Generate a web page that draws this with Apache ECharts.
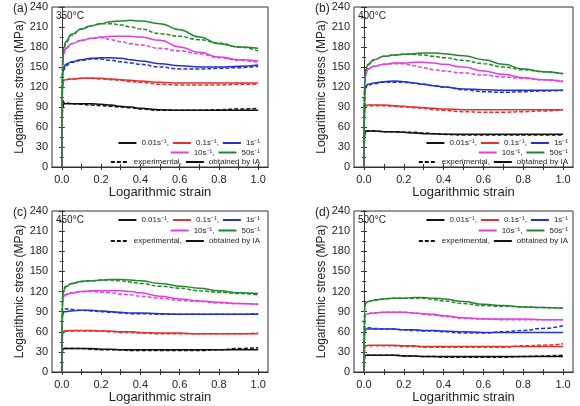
<!DOCTYPE html>
<html>
<head>
<meta charset="utf-8">
<script src="https://cdn.jsdelivr.net/npm/echarts@6/dist/echarts.min.js"></script>
<style>
  html, body { margin: 0; padding: 0; background: #fff; }
  #main { width: 580px; height: 406px; }
</style>
</head>
<body>
<div id="main"></div>
<script>
// strain points shared by every curve
const strain = [0, 0.004, 0.01, 0.02, 0.05, 0.1, 0.15, 0.2, 0.25, 0.3, 0.35, 0.4, 0.5, 0.6, 0.7, 0.8, 0.9, 1.0];
const rates = ['0.01s⁻¹', '0.1s⁻¹', '1s⁻¹', '10s⁻¹', '50s⁻¹'];
const temps = ['350°C', '400°C', '450°C', '500°C'];
const panelTags = ['(a)', '(b)', '(c)', '(d)'];
const xLabels = [0, 0.2, 0.4, 0.6, 0.8, 1.0];
const xTicks = [0, 0.1, 0.2, 0.3, 0.4, 0.5, 0.6, 0.7, 0.8, 0.9, 1.0];

// 350°C
const ia350_001 = [0, 88, 95, 95, 95, 95, 95, 94, 93, 91, 90, 88, 86, 85, 85, 85, 85, 85];
const ia350_01 = [0, 120, 130, 131, 132, 133, 133, 133, 132, 131, 130, 129, 127, 126, 126, 126, 126, 126];
const ia350_1 = [0, 140, 150, 154, 158, 161, 163, 164, 164, 163, 161, 159, 155, 152, 150, 150, 151, 153];
const ia350_10 = [0, 150, 172, 178, 185, 190, 193, 195, 196, 196, 196, 195, 190, 180, 172, 165, 161, 159];
const ia350_50 = [0, 155, 178, 188, 199, 207, 212, 215, 218, 219, 220, 219, 215, 206, 195, 185, 180, 178];
const exp350_001 = [0, 100, 97, 96, 95, 94, 93, 92, 91, 90, 89, 87, 85, 85, 85, 86, 87, 88];
const exp350_01 = [0, 125, 130, 131, 132, 133, 133, 132, 131, 130, 128, 127, 124, 123, 123, 123, 124, 124];
const exp350_1 = [0, 140, 145, 152, 157, 160, 162, 162, 160, 158, 156, 154, 150, 147, 147, 148, 149, 151];
const exp350_10 = [0, 152, 170, 178, 185, 190, 193, 194, 191, 188, 185, 183, 178, 174, 170, 164, 160, 157];
const exp350_50 = [0, 160, 175, 186, 198, 207, 212, 215, 215, 213, 210, 207, 200, 196, 191, 186, 180, 174];

// 400°C
const ia400_001 = [0, 50, 54, 54, 54, 53, 53, 52, 51, 50, 50, 49, 49, 49, 49, 49, 49, 49];
const ia400_01 = [0, 85, 92, 93, 93, 93, 92, 91, 90, 89, 88, 87, 86, 86, 86, 86, 86, 86];
const ia400_1 = [0, 112, 122, 124, 126, 128, 129, 128, 126, 124, 122, 120, 117, 116, 115, 115, 115, 115];
const ia400_10 = [0, 128, 140, 147, 151, 154, 156, 156, 157, 157, 156, 154, 150, 144, 139, 134, 131, 128];
const ia400_50 = [0, 135, 147, 154, 161, 166, 168, 169, 170, 171, 171, 170, 167, 161, 154, 147, 143, 140];
const exp400_001 = [0, 50, 54, 54, 54, 53, 53, 52, 52, 51, 50, 49, 48, 48, 48, 48, 48, 48];
const exp400_01 = [0, 97, 92, 92, 92, 92, 91, 90, 89, 88, 86, 85, 83, 82, 82, 83, 84, 86];
const exp400_1 = [0, 115, 120, 123, 125, 127, 127, 127, 126, 124, 122, 120, 116, 113, 112, 113, 114, 115];
const exp400_10 = [0, 128, 140, 147, 151, 154, 155, 155, 152, 149, 146, 144, 141, 138, 135, 133, 131, 129];
const exp400_50 = [0, 130, 145, 153, 161, 166, 168, 169, 169, 168, 166, 164, 160, 155, 150, 146, 143, 140];

// 450°C
const ia450_001 = [0, 33, 35, 35, 35, 35, 35, 34, 34, 33, 33, 33, 33, 33, 33, 33, 33, 33];
const ia450_01 = [0, 57, 61, 61, 62, 62, 62, 61, 61, 60, 60, 59, 58, 58, 57, 57, 57, 57];
const ia450_1 = [0, 85, 90, 90, 91, 92, 92, 91, 90, 89, 88, 88, 87, 86, 86, 86, 86, 86];
const ia450_10 = [0, 105, 113, 115, 118, 120, 121, 121, 121, 121, 120, 118, 113, 109, 106, 104, 102, 101];
const ia450_50 = [0, 112, 122, 127, 132, 135, 136, 137, 138, 138, 137, 136, 132, 128, 125, 121, 118, 117];
const exp450_001 = [0, 33, 35, 35, 35, 35, 34, 33, 33, 33, 32, 32, 32, 32, 32, 33, 35, 36];
const exp450_01 = [0, 57, 61, 61, 61, 61, 61, 61, 60, 59, 59, 58, 57, 57, 57, 57, 57, 58];
const exp450_1 = [0, 95, 94, 94, 93, 92, 91, 90, 89, 88, 87, 87, 86, 86, 86, 86, 86, 87];
const exp450_10 = [0, 108, 115, 116, 118, 120, 120, 119, 118, 116, 115, 113, 110, 107, 105, 103, 102, 101];
const exp450_50 = [0, 115, 125, 128, 132, 135, 136, 137, 137, 136, 134, 132, 128, 125, 121, 119, 117, 115];

// 500°C
const ia500_001 = [0, 24, 25, 25, 25, 25, 25, 24, 24, 23, 23, 23, 23, 23, 23, 23, 23, 23];
const ia500_01 = [0, 37, 39, 40, 40, 40, 40, 39, 39, 38, 38, 38, 38, 38, 38, 38, 38, 38];
const ia500_1 = [0, 60, 64, 64, 64, 64, 64, 63, 63, 62, 62, 61, 60, 59, 59, 59, 59, 59];
const ia500_10 = [0, 80, 86, 87, 88, 89, 89, 89, 88, 87, 86, 84, 81, 79, 79, 79, 78, 78];
const ia500_50 = [0, 100, 103, 105, 107, 109, 110, 110, 111, 111, 110, 109, 105, 101, 99, 97, 96, 95];
const exp500_001 = [0, 24, 25, 25, 25, 25, 25, 24, 24, 23, 23, 22, 22, 22, 22, 23, 24, 25];
const exp500_01 = [0, 37, 39, 39, 39, 39, 39, 38, 38, 37, 37, 37, 37, 37, 37, 39, 40, 42];
const exp500_1 = [0, 67, 66, 66, 65, 64, 64, 63, 62, 61, 61, 60, 58, 58, 60, 62, 65, 69];
const exp500_10 = [0, 80, 86, 87, 88, 89, 89, 89, 88, 86, 85, 83, 80, 79, 78, 78, 78, 78];
const exp500_50 = [0, 98, 103, 105, 107, 109, 110, 110, 110, 110, 108, 106, 102, 99, 98, 97, 96, 95];

const iaSets = [
  [ia350_001, ia350_01, ia350_1, ia350_10, ia350_50],
  [ia400_001, ia400_01, ia400_1, ia400_10, ia400_50],
  [ia450_001, ia450_01, ia450_1, ia450_10, ia450_50],
  [ia500_001, ia500_01, ia500_1, ia500_10, ia500_50]
];
const expSets = [
  [exp350_001, exp350_01, exp350_1, exp350_10, exp350_50],
  [exp400_001, exp400_01, exp400_1, exp400_10, exp400_50],
  [exp450_001, exp450_01, exp450_1, exp450_10, exp450_50],
  [exp500_001, exp500_01, exp500_1, exp500_10, exp500_50]
];

const colors = ['#111111', '#e0322e', '#2233cc', '#e040e0', '#22882a'];
const font = 'Liberation Sans, Arial, sans-serif';

// grid boxes (left, top, width, height)
const boxes = [
  { left: 52, top: 7, width: 216, height: 160 },
  { left: 354, top: 7, width: 219, height: 160 },
  { left: 52, top: 211, width: 216, height: 161 },
  { left: 354, top: 211, width: 219, height: 161 }
];
// legend anchor: right offset and top of first row
const legendPos = [
  { right: 320, top: 139, gap: 9.5 },
  { right: 12, top: 139, gap: 9.5 },
  { right: 320, top: 216, gap: 10.5 },
  { right: 12, top: 216, gap: 10.5 }
];

const pair = (arr) => strain.map((s, i) => [s, arr[i]]);

let myChart = echarts.init(document.getElementById('main'));

const grid = [], xAxis = [], yAxis = [], series = [], legend = [], graphic = [];

boxes.forEach((b, p) => {
  grid.push({ left: b.left, top: b.top, width: b.width, height: b.height, show: true, borderColor: '#333', borderWidth: 1 });

  // bottom axis
  xAxis.push({
    gridIndex: p, type: 'value', min: -0.05, max: 1.05,
    name: 'Logarithmic strain', nameLocation: 'middle', nameGap: 18,
    nameTextStyle: { fontSize: 13, color: '#222', fontFamily: font },
    axisLine: { lineStyle: { color: '#333' } },
    axisTick: { inside: true, length: 3, customValues: xTicks, lineStyle: { color: '#333' } },
    axisLabel: { customValues: xLabels, fontSize: 11, color: '#222', fontFamily: font, margin: 7, formatter: (v) => v.toFixed(1) },
    splitLine: { show: false }
  });
  // top mirror
  xAxis.push({
    gridIndex: p, type: 'value', min: -0.05, max: 1.05, position: 'top',
    axisLine: { lineStyle: { color: '#333' } },
    axisTick: { inside: true, length: 3, customValues: xTicks, lineStyle: { color: '#333' } },
    axisLabel: { show: false }, splitLine: { show: false }
  });
  yAxis.push({
    gridIndex: p, type: 'value', min: 0, max: 240, interval: 30,
    name: 'Logarithmic stress (MPa)', nameLocation: 'middle', nameGap: 25,
    nameTextStyle: { fontSize: 12, color: '#222', fontFamily: font },
    axisLine: { show: true, lineStyle: { color: '#333' } },
    axisTick: { inside: true, length: 3, lineStyle: { color: '#333' } },
    minorTick: { show: true, splitNumber: 2, length: 2, lineStyle: { color: '#333' } },
    axisLabel: { fontSize: 11, color: '#222', fontFamily: font, margin: 4 },
    splitLine: { show: false }
  });
  yAxis.push({
    gridIndex: p, type: 'value', min: 0, max: 240, interval: 30, position: 'right',
    axisLine: { show: true, lineStyle: { color: '#333' } },
    axisTick: { inside: true, length: 3, lineStyle: { color: '#333' } },
    minorTick: { show: true, splitNumber: 2, length: 2, lineStyle: { color: '#333' } },
    axisLabel: { show: false }, splitLine: { show: false }
  });

  rates.forEach((r, k) => {
    series.push({
      name: 'exp ' + temps[p] + ' ' + r, type: 'line', xAxisIndex: p * 2, yAxisIndex: p * 2,
      data: pair(expSets[p][k]), symbol: 'none', smooth: 0.5, smoothMonotone: 'x',
      lineStyle: { color: colors[k], width: 1.5, type: [4, 2] }, z: 2
    });
    series.push({
      name: r, type: 'line', xAxisIndex: p * 2, yAxisIndex: p * 2,
      data: pair(iaSets[p][k]), symbol: 'none', smooth: 0.5, smoothMonotone: 'x',
      color: colors[k], lineStyle: { color: colors[k], width: 1.5 }, z: 3
    });
  });

  const lp = legendPos[p];
  const rows = [
    [rates[0], rates[1], rates[2]],
    [rates[3], rates[4]],
    ['experimental', 'obtained by IA']
  ];
  rows.forEach((row, ri) => {
    legend.push({
      right: lp.right, top: lp.top + ri * lp.gap, padding: 0,
      itemWidth: 18, itemHeight: 6, itemGap: 3, selectedMode: false,
      itemStyle: { opacity: 0 },
      lineStyle: { width: 2 },
      data: row,
      formatter: (name) => (name === row[row.length - 1] ? name : name + ','),
      textStyle: { fontSize: 8, color: '#222', fontFamily: font }
    });
  });

  graphic.push({
    type: 'text', left: b.left - 39, top: b.top - 4,
    style: { text: panelTags[p], fontSize: 12, fill: '#222', fontFamily: font }
  });
  graphic.push({
    type: 'text', left: b.left + 4, top: b.top + 4,
    style: { text: temps[p], fontSize: 10, fill: '#222', fontFamily: font }
  });
});

// legend-only entries for the line styles
series.push({ name: 'experimental', type: 'line', xAxisIndex: 0, yAxisIndex: 0, data: [], symbol: 'none', color: '#111', lineStyle: { color: '#111', width: 1.5, type: [4, 2] } });
series.push({ name: 'obtained by IA', type: 'line', xAxisIndex: 0, yAxisIndex: 0, data: [], symbol: 'none', color: '#111', lineStyle: { color: '#111', width: 1.5 } });

myChart.setOption({
  animation: false,
  textStyle: { fontFamily: font },
  grid: grid,
  xAxis: xAxis,
  yAxis: yAxis,
  legend: legend,
  graphic: graphic,
  series: series
});

window.addEventListener('resize', () => {
  myChart.resize();
});
</script>
</body>
</html>
